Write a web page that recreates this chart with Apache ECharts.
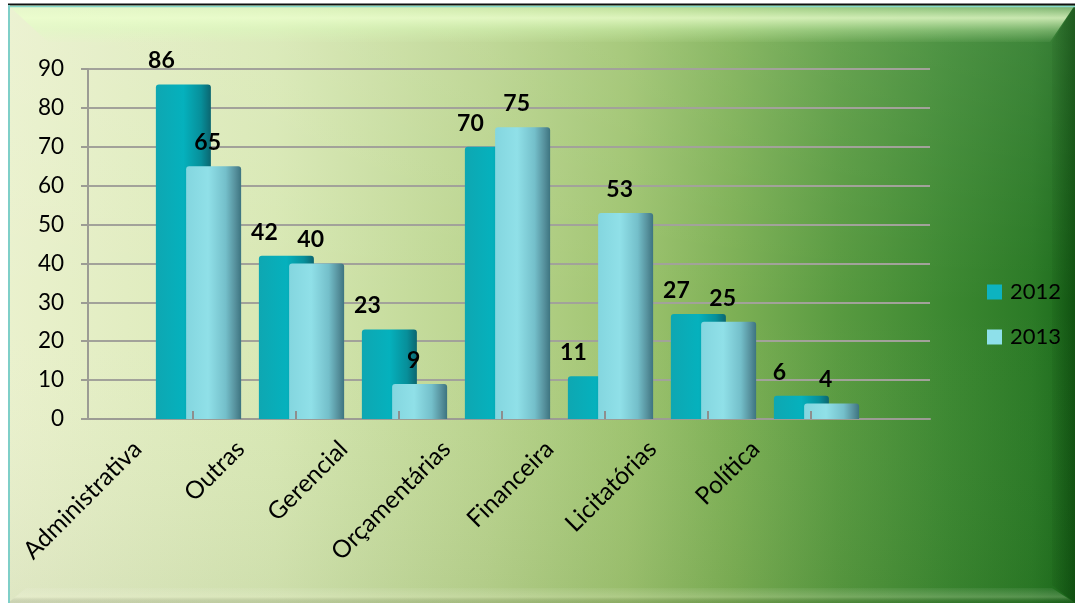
<!DOCTYPE html>
<html><head><meta charset="utf-8">
<script src="https://cdn.jsdelivr.net/npm/echarts@6/dist/echarts.min.js"></script>
<style>html,body{margin:0;padding:0;background:#fff}#c{width:1075px;height:606px}</style>
</head><body><div id="c"></div>
<script>
const categories = ['Administrativa','Outras','Gerencial','Orçamentárias','Financeira','Licitatórias','Política'];
const seriesNames = ['2012','2013'];
const values2012 = [86,42,23,70,11,27,6];
const values2013 = [65,40,9,75,53,25,4];
const yMin = 0, yMax = 90, yStep = 10;

const FONT = 'Lato, "Open Sans", sans-serif';
const G = echarts.graphic;
const lin = (x, y, x2, y2, stops) => new G.LinearGradient(x, y, x2, y2, stops.map(s => ({offset: s[0], color: s[1]})));

const TOP = 69, BOTTOM = 606 - 419;
const chart = echarts.init(document.getElementById('c'), null, {renderer: 'canvas'});

const hiddenY = (gi) => ({type: 'value', gridIndex: gi, min: yMin, max: yMax, interval: yStep, show: false});

chart.setOption({
  backgroundColor: '#ffffff',
  animation: false,
  graphic: {elements: [
    {type: 'rect', z: -100, shape: {x: 8, y: 5, width: 1067, height: 598},
      style: {fill: lin(0, 0, 1, 0, [[0, '#eaf1cd'], [0.25, '#d8e8b4'], [0.45, '#bad48e'], [0.58, '#9fc470'], [0.68, '#7db055'], [0.78, '#589a40'], [0.88, '#3c8831'], [0.96, '#2b7a26'], [1, '#1a681a']])}},
    {type: 'rect', z: -99, shape: {x: 8, y: 5, width: 1067, height: 598},
      style: {fill: lin(0, 0, 0, 1, [[0, 'rgba(255,255,255,0.1)'], [0.5, 'rgba(255,255,255,0)'], [1, 'rgba(0,30,0,0.05)']])}},
    {type: 'polygon', z: -98, shape: {points: [[8, 5], [1075, 5], [1050, 42], [48, 42]]},
      style: {fill: lin(0, 0, 0, 1, [[0, 'rgba(225,255,195,0.35)'], [0.35, 'rgba(235,255,205,0.8)'], [0.7, 'rgba(220,255,190,0.35)'], [1, 'rgba(220,255,190,0.05)']])}},
    {type: 'polygon', z: -98, shape: {points: [[1075, 5], [1075, 603], [1052, 585], [1052, 42]]},
      style: {fill: lin(0, 0, 1, 0, [[0, 'rgba(0,40,0,0.05)'], [1, 'rgba(0,40,0,0.35)']])}},
    {type: 'polygon', z: -98, shape: {points: [[8, 603], [1075, 603], [1052, 588], [26, 588]]},
      style: {fill: lin(0, 0, 0, 1, [[0, 'rgba(255,255,255,0.05)'], [0.6, 'rgba(255,255,230,0.22)'], [1, 'rgba(0,0,0,0.08)']])}},
    {type: 'line', z: -97, shape: {x1: 8, y1: 4.5, x2: 1075, y2: 4.5}, style: {stroke: '#111', lineWidth: 2}},
    {type: 'line', z: -97, shape: {x1: 8, y1: 6.5, x2: 1075, y2: 6.5}, style: {stroke: '#86d8cc', lineWidth: 1.5}},
    {type: 'line', z: -97, shape: {x1: 9, y1: 5, x2: 9, y2: 603}, style: {stroke: '#7fcfc8', lineWidth: 2}}
  ]},
  legend: {
    orient: 'vertical', left: 982, top: 276, itemWidth: 15, itemHeight: 15, itemGap: 23,
    icon: 'rect',
    textStyle: {fontFamily: FONT, fontSize: 22, color: '#000', lineHeight: 22, padding: [0, 0, 0, 3]},
    data: [
      {name: seriesNames[0], itemStyle: {color: '#0db3c0'}},
      {name: seriesNames[1], itemStyle: {color: '#8ee0ea'}}
    ]
  },
  grid: [
    {left: 88, right: 1075 - 930, top: TOP, bottom: BOTTOM},          // gridlines / y axis
    {left: 147, right: 1075 - 868, top: TOP, bottom: BOTTOM},         // bars
    {left: 86, right: 1075 - 807, top: TOP, bottom: BOTTOM},          // category labels
    {left: 141, right: 1075 - 862, top: TOP, bottom: BOTTOM}          // small floor ticks
  ],
  xAxis: [
    {type: 'category', gridIndex: 0, data: categories, axisLabel: {show: false}, axisTick: {show: false},
      axisLine: {show: true, lineStyle: {color: '#9c9c94', width: 2}}},
    {type: 'category', gridIndex: 1, data: categories, axisLabel: {show: false}, axisTick: {show: false}, axisLine: {show: false}},
    {type: 'category', gridIndex: 2, data: categories, axisLine: {show: false}, axisTick: {show: false},
      axisLabel: {rotate: 45, margin: 26, fontFamily: FONT, fontSize: 24.5, color: '#000', interval: 0}},
    {type: 'category', gridIndex: 3, data: categories, z: 5, axisLabel: {show: false}, axisLine: {show: false},
      axisTick: {show: true, inside: true, alignWithLabel: true, length: 8, lineStyle: {color: '#8e8e8e', width: 2}}}
  ],
  yAxis: [
    {type: 'value', gridIndex: 0, min: yMin, max: yMax, interval: yStep,
      axisLabel: {fontFamily: FONT, fontSize: 22.5, color: '#000', margin: 24},
      axisLine: {show: true, lineStyle: {color: '#9c9c94', width: 2}},
      axisTick: {show: true, length: 7, lineStyle: {color: '#9c9c94', width: 2}},
      splitLine: {show: true, lineStyle: {color: '#a2a29a', width: 2}}},
    hiddenY(1), hiddenY(2), hiddenY(3)
  ],
  series: [
    {name: seriesNames[0], type: 'bar', xAxisIndex: 1, yAxisIndex: 1, data: values2012,
      barWidth: 55, barGap: '-45%',
      itemStyle: {color: lin(0, 0, 1, 0, [[0, '#0ea7b2'], [0.5, '#05b1bd'], [0.82, '#078f9a'], [1, '#0b6670']]), borderRadius: [3, 3, 0, 0]},
      label: {show: true, position: 'top', distance: 5, offset: [-22, -7], fontFamily: FONT, fontSize: 23, fontWeight: 'bold', color: '#000'}},
    {name: seriesNames[1], type: 'bar', xAxisIndex: 1, yAxisIndex: 1, data: values2013,
      barWidth: 55, barGap: '-45%',
      itemStyle: {color: lin(0, 0, 1, 0, [[0, '#84d6df'], [0.4, '#90e0e8'], [0.72, '#74bfca'], [0.9, '#558f9b'], [1, '#3d7480']]), borderRadius: [3, 3, 0, 0]},
      label: {show: true, position: 'top', distance: 5, offset: [-6, -7], fontFamily: FONT, fontSize: 23, fontWeight: 'bold', color: '#000'}}
  ]
});
</script></body></html>
